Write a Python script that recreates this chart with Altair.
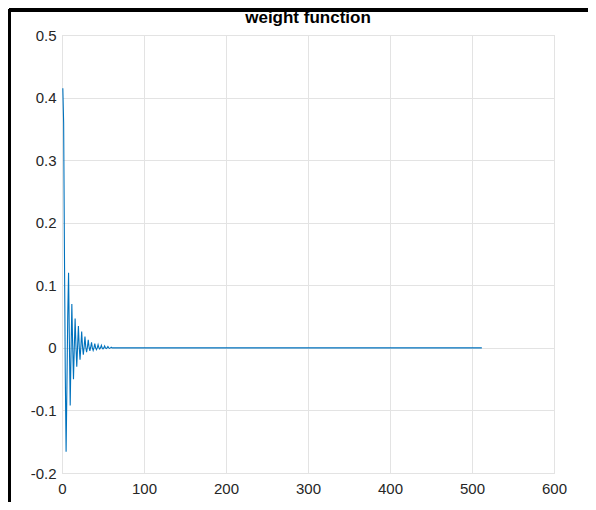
import altair as alt
import pandas as pd

# sample index and weight values
sample_idx = [1, 2, 3, 4, 5, 6, 7, 8, 9, 10,
              11, 12, 13, 14, 15, 16, 17, 18, 19, 20,
              21, 22, 23, 24, 25, 26, 27, 28, 29, 30,
              31, 32, 33, 34, 35, 36, 37, 38, 39, 40,
              41, 42, 43, 44, 45, 46, 47, 48, 49, 50,
              51, 52, 53, 54, 55, 56, 57, 58, 59, 60,
              61, 512]
weights = [0.415, 0.36, 0.15, -0.04, -0.166, -0.06, 0.05, 0.12, 0.01, -0.092,
           -0.01, 0.07, 0.005, -0.05, 0.0, 0.047, 0.003, -0.030, 0.002, 0.035,
           0.002, -0.019, 0.002, 0.026, 0.002, -0.011, 0.002, 0.018, 0.001, -0.007,
           0.001, 0.013, 0.001, -0.005, 0.001, 0.009, 0.0, -0.004, 0.0, 0.007,
           0.0, -0.003, 0.0, 0.005, 0.0, -0.002, 0.0, 0.004, 0.0, -0.0015,
           0.0, 0.003, 0.0, -0.001, 0.0, 0.002, 0.0, -0.0008, 0.0, 0.001,
           0.0, 0.0]

x_ticks = [0, 100, 200, 300, 400, 500, 600]
y_ticks = [-0.2, -0.1, 0, 0.1, 0.2, 0.3, 0.4, 0.5]
title_text = "weight function"

df = pd.DataFrame({"n": sample_idx, "w": weights})

FONT = "Liberation Sans"

line = alt.Chart(df).mark_line(color="#0072BD", strokeWidth=1.1, clip=True).encode(
    x=alt.X("n:Q", scale=alt.Scale(domain=[0, 600], nice=False),
            axis=alt.Axis(values=x_ticks, title=None, tickSize=0, labelPadding=8,
                          labelFontSize=15, labelColor="#262626", labelFont=FONT,
                          domain=False, gridColor="#e3e3e3", grid=True,
                          labelFlush=False)),
    y=alt.Y("w:Q", scale=alt.Scale(domain=[-0.2, 0.5], nice=False, zero=False),
            axis=alt.Axis(values=y_ticks, title=None, tickSize=0, labelPadding=6,
                          labelFontSize=15, labelColor="#262626", labelFont=FONT,
                          domain=False, gridColor="#e3e3e3", grid=True,
                          labelFlush=False,
                          labelExpr="datum.value == 0 ? '0' : replace(format(datum.value, '.1f'), '\u2212', '-')")),
)

title = alt.Chart(pd.DataFrame({"t": [title_text]})).mark_text(
    font=FONT, fontSize=17, fontWeight="bold", color="black",
    align="center", baseline="middle", clip=False
).encode(x=alt.value(246), y=alt.value(-17), text="t:N")

# outer figure frame (top and left edges), decoration only
frame_top = alt.Chart(df).mark_rule(color="black", strokeWidth=3, clip=False).encode(
    x=alt.value(-53), x2=alt.value(540), y=alt.value(-25)
)
frame_left = alt.Chart(df).mark_rule(color="black", strokeWidth=3, clip=False).encode(
    x=alt.value(-53), y=alt.value(-26), y2=alt.value(480)
)

chart = alt.layer(line, title, frame_top, frame_left).properties(
    width=492,
    height=438,
    autosize=alt.AutoSizeParams(type="none"),
    padding={"left": 54, "top": 27, "right": 34, "bottom": 29},
).configure_view(stroke="#6e6e6e", strokeWidth=1).configure(background="white")

chart.save("out.html", embed_options={"renderer": "svg", "actions": False})
